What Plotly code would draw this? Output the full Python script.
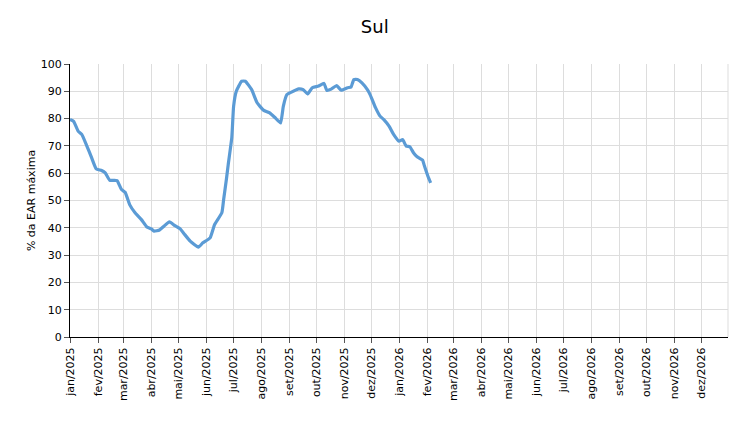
import plotly.graph_objects as go

dates = [
    "2025-01-01", "2025-01-05", "2025-01-10", "2025-01-14", "2025-01-19", "2025-01-25",
    "2025-01-30", "2025-02-05", "2025-02-09", "2025-02-14", "2025-02-22", "2025-02-27",
    "2025-03-03", "2025-03-08", "2025-03-14", "2025-03-21", "2025-03-27", "2025-04-01",
    "2025-04-04", "2025-04-10", "2025-04-15", "2025-04-21", "2025-04-27", "2025-05-03",
    "2025-05-08", "2025-05-14", "2025-05-23", "2025-05-28", "2025-06-05", "2025-06-10",
    "2025-06-18", "2025-06-20", "2025-06-23", "2025-06-25", "2025-06-29", "2025-07-01",
    "2025-07-04", "2025-07-10", "2025-07-14", "2025-07-21", "2025-07-27", "2025-08-03",
    "2025-08-10", "2025-08-16", "2025-08-22", "2025-08-25", "2025-08-29", "2025-09-03",
    "2025-09-11", "2025-09-16", "2025-09-21", "2025-09-26", "2025-10-03", "2025-10-09",
    "2025-10-12", "2025-10-17", "2025-10-23", "2025-10-28", "2025-11-04", "2025-11-08",
    "2025-11-11", "2025-11-15", "2025-11-20", "2025-11-26", "2025-11-29", "2025-12-05",
    "2025-12-10", "2025-12-14", "2025-12-20", "2025-12-25", "2025-12-31", "2026-01-04",
    "2026-01-08", "2026-01-12", "2026-01-16", "2026-01-20", "2026-01-26", "2026-01-28",
    "2026-02-01", "2026-02-04",
]
ear = [
    79.7, 79.0, 75.4, 74.2, 70.5, 65.6,
    61.6, 61.0, 60.1, 57.4, 57.3, 54.0,
    53.0, 48.5, 45.5, 43.0, 40.3, 39.6,
    38.8, 39.2, 40.6, 42.2, 40.8, 39.6,
    37.5, 35.1, 32.9, 34.5, 36.3, 41.2,
    45.5, 50.4, 57.7, 63.0, 73.0, 84.5,
    90.0, 93.7, 93.7, 90.6, 85.8, 83.1,
    82.1, 80.3, 78.4, 84.5, 88.8, 89.7,
    90.9, 90.6, 89.0, 91.3, 91.9, 92.9,
    90.4, 90.8, 92.1, 90.4, 91.3, 91.6,
    94.3, 94.3, 93.1, 90.6, 88.8, 84.0,
    80.9, 79.7, 77.2, 74.2, 71.7, 72.3,
    69.9, 69.7, 67.5, 66.0, 64.8, 62.8,
    58.9, 56.5,
]

months = ["jan", "fev", "mar", "abr", "mai", "jun", "jul", "ago", "set", "out", "nov", "dez"]
years = [2025, 2026]
tick_vals = [f"{y}-{m:02d}-01" for y in years for m in range(1, 13)]
tick_text = [f"{months[m - 1]}/{y}" for y in years for m in range(1, 13)]

font_family = "Verdana, DejaVu Sans, sans-serif"

fig = go.Figure()
fig.add_trace(go.Scatter(
    x=dates, y=ear, mode="lines",
    line=dict(color="#5B9BD5", width=3.2, shape="spline", smoothing=0.4),
    showlegend=False, hoverinfo="x+y",
))

fig.update_layout(
    width=750, height=424,
    margin=dict(l=62, r=30, t=56, b=95),
    paper_bgcolor="white", plot_bgcolor="white",
    font=dict(family=font_family, size=11, color="#000"),
    title=dict(text="Sul", x=0.489, xanchor="center", y=0.955, yanchor="middle",
               font=dict(family=font_family, size=18, color="#000")),
)
fig.update_xaxes(
    range=["2025-01-01", "2026-12-30"],
    tickvals=tick_vals, ticktext=tick_text, tickangle=-90,
    showgrid=True, gridcolor="#dddddd", gridwidth=1,
    showline=True, linecolor="#000", linewidth=1,
    ticks="outside", ticklen=5, tickcolor="#555",
    tickfont=dict(size=11, family=font_family),
    zeroline=False,
)
fig.update_yaxes(
    range=[0, 100], dtick=10,
    title=dict(text="% da EAR máxima", font=dict(size=11, family=font_family), standoff=2),
    showgrid=True, gridcolor="#dddddd", gridwidth=1,
    showline=True, linecolor="#000", linewidth=1,
    ticks="outside", ticklen=5, tickcolor="#555",
    tickfont=dict(size=11, family=font_family),
    zeroline=False,
)
fig.add_shape(type="line", xref="paper", yref="paper", x0=1, x1=1, y0=0, y1=1,
              line=dict(color="#dddddd", width=1))

fig.write_html("out.html")
